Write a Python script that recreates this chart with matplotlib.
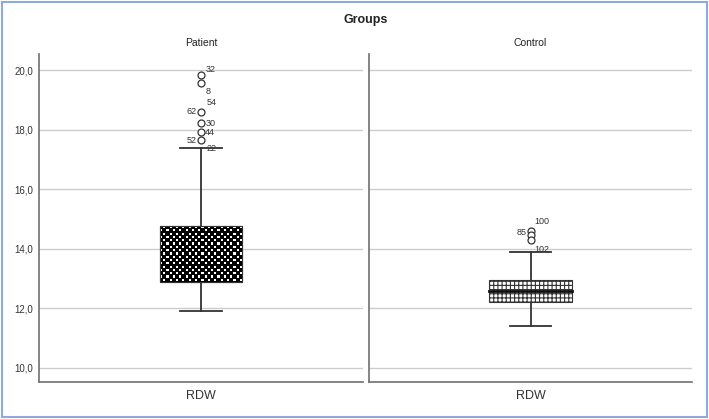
import numpy as np
import matplotlib
matplotlib.use("Agg")
import matplotlib.pyplot as plt
from matplotlib.patches import Rectangle

plt.rcParams['font.family'] = ['Liberation Sans', 'DejaVu Sans']

# ---- data ----
groups = ["Patient", "Control"]
variable = "RDW"
whisker_low = [11.9, 11.4]
q1 = [12.9, 12.2]
median = [13.7, 12.6]
q3 = [14.75, 12.97]
whisker_high = [17.4, 13.9]
patient_outlier_ids = ["32", "8", "54", "62", "30", "44", "52", "22"]
patient_outlier_vals = [19.83, 19.57, 18.62, 18.60, 18.22, 17.92, 17.64, 17.42]
control_outlier_ids = ["100", "85", "102"]
control_outlier_vals = [14.60, 14.46, 14.30]
yticks = [10, 12, 14, 16, 18, 20]
ytick_labels = ["10,0", "12,0", "14,0", "16,0", "18,0", "20,0"]

outlier_ids = [patient_outlier_ids, control_outlier_ids]
outlier_vals = [patient_outlier_vals, control_outlier_vals]

# label offsets (points) for each outlier label
patient_offsets = [(3, 4, 'left'), (3, -6, 'left'), (4, 6, 'left'), (-3, 0, 'right'),
                   (3, 0, 'left'), (3, 0, 'left'), (-3, 0, 'right'), (4, -1, 'left')]
control_offsets = [(8, 7, 'center'), (-3, 2, 'right'), (8, -7, 'center')]
offsets = [patient_offsets, control_offsets]
show_marker = [[True, True, False, True, True, True, True, False],
               [True, True, True]]

W, H = 709, 419
fig = plt.figure(figsize=(W / 100, H / 100), dpi=100)

gray_axis = "#707070"
grid_col = "#cccccc"
ylim = (9.53, 20.54)

axes_px = [(39, 363), (369, 692)]
top_px, bot_px = 54, 382
box_w = 0.256
cap_w = 0.127

for i, (x0, x1) in enumerate(axes_px):
    ax = fig.add_axes([x0 / W, 1 - bot_px / H, (x1 - x0) / W, (bot_px - top_px) / H])
    ax.set_xlim(0, 1)
    ax.set_ylim(*ylim)
    for s in ["top", "right"]:
        ax.spines[s].set_visible(False)
    ax.spines["bottom"].set_color(gray_axis)
    ax.spines["bottom"].set_linewidth(1.2)
    ax.spines["left"].set_color(gray_axis)
    ax.spines["left"].set_linewidth(1.2)
    ax.set_yticks(yticks)
    if i == 0:
        ax.set_yticklabels(ytick_labels, fontsize=7, color="#333333")
    else:
        ax.set_yticklabels([])
    ax.tick_params(axis='y', length=0, pad=4)
    ax.set_xticks([0.5])
    ax.set_xticklabels([variable], fontsize=9, color="#333333")
    ax.tick_params(axis='x', length=0, pad=6)
    ax.yaxis.grid(True, color=grid_col, linewidth=1.0)
    ax.set_axisbelow(True)
    ax.set_title(groups[i], fontsize=7.5, color="#222222", pad=6)

    cx = 0.5
    # whiskers
    ax.plot([cx, cx], [whisker_low[i], q1[i]], color="#333333", lw=1.3, zorder=2)
    ax.plot([cx, cx], [q3[i], whisker_high[i]], color="#333333", lw=1.3, zorder=2)
    ax.plot([cx - cap_w / 2, cx + cap_w / 2], [whisker_low[i]] * 2, color="#333333", lw=1.3, zorder=2)
    ax.plot([cx - cap_w / 2, cx + cap_w / 2], [whisker_high[i]] * 2, color="#333333", lw=1.3, zorder=2)

    if i == 0:
        rect = Rectangle((cx - box_w / 2, q1[i]), box_w, q3[i] - q1[i],
                         facecolor="white", edgecolor="#333333", lw=0.8, zorder=3)
        ax.add_patch(rect)
        ncol, nrow = 26, 17
        sub = 3
        pattern = np.zeros((nrow * sub, ncol * sub))
        for r in range(nrow):
            for c in range(ncol):
                if (r + c) % 2 == 1:
                    pattern[r * sub:r * sub + 2, c * sub:c * sub + 2] = 1.0
        im = ax.imshow(pattern, cmap="gray", vmin=0, vmax=1.0,
                       extent=(cx - box_w / 2, cx + box_w / 2, q1[i], q3[i]),
                       aspect="auto", interpolation="nearest", zorder=4)
        im.set_clip_path(rect)
        ax.add_patch(Rectangle((cx - box_w / 2, q1[i]), box_w, q3[i] - q1[i],
                               facecolor="none", edgecolor="#333333", lw=0.8, zorder=6))
    else:
        plt.rcParams['hatch.linewidth'] = 0.8
        plt.rcParams['hatch.color'] = "#222222"
        rect = Rectangle((cx - box_w / 2, q1[i]), box_w, q3[i] - q1[i],
                         facecolor="white", edgecolor="#333333", lw=0.8,
                         hatch="++++", zorder=3)
        ax.add_patch(rect)
        ax.plot([cx - box_w / 2, cx + box_w / 2], [median[i]] * 2, color="#111111", lw=2.0, zorder=5)

    for k, (lab, v) in enumerate(zip(outlier_ids[i], outlier_vals[i])):
        if show_marker[i][k]:
            ax.plot(cx, v, marker="o", ms=5, mfc="white", mec="#333333", mew=0.9,
                    linestyle="none", zorder=7)
        dx, dy, ha = offsets[i][k]
        ax.annotate(lab, (cx, v), xytext=(dx, dy), textcoords="offset points",
                    fontsize=6.5, color="#333333", ha=ha, va="center", zorder=8)

fig.text(366 / W, 1 - 20 / H, "Groups", fontsize=9, fontweight="bold",
         ha="center", va="center", color="#222222")

# light blue frame around figure
fig.patches.append(Rectangle((0.003, 0.004), 0.994, 0.992, transform=fig.transFigure,
                             fill=False, edgecolor="#8eaadb", lw=1.5))

fig.savefig("out.png", dpi=100)
